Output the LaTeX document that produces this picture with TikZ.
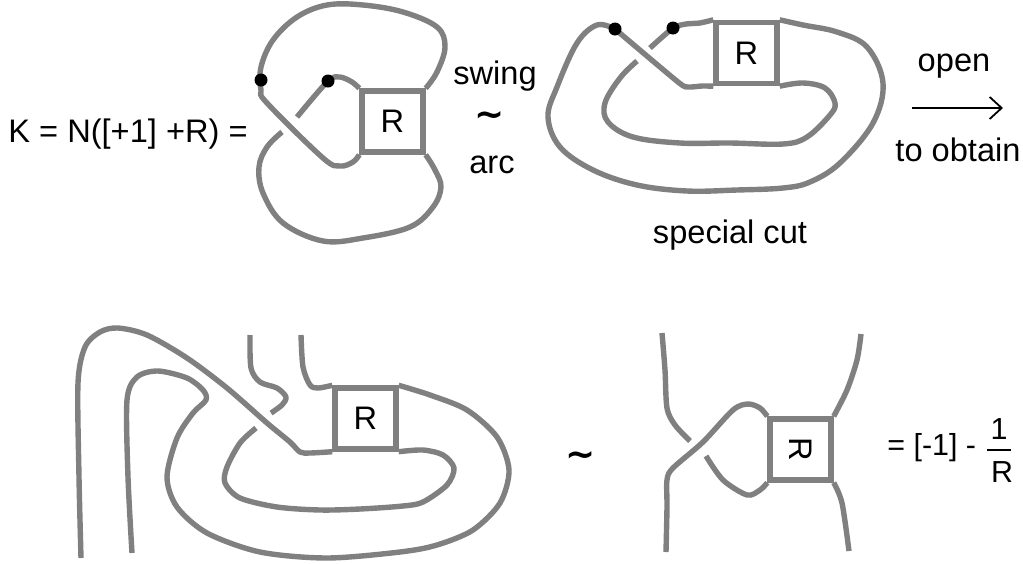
\documentclass[tikz,border=0pt]{standalone}
\usepackage{fontspec}
\setmainfont{Liberation Sans}
\newfontfamily\symbolfont{DejaVu Sans}
\usetikzlibrary{arrows.meta, positioning, calc}
\definecolor{strandColor}{RGB}{128, 128, 128}
\tikzstyle{strand} = [draw=strandColor, line width=2.7pt, line join=round]
\tikzstyle{tangle} = [rectangle, draw=strandColor, line width=2.7pt, minimum width=30.5pt, minimum height=30.5pt, inner sep=0pt, text centered, font=\fontsize{16.3}{18}\selectfont]
\tikzstyle{endpoint} = [circle, fill=black, minimum size=6.5pt, inner sep=0pt]
\tikzstyle{label} = [inner sep=0pt, font=\fontsize{16.3}{18}\selectfont]
\tikzstyle{smalllabel} = [inner sep=0pt, font=\fontsize{15.2}{17}\selectfont]
\tikzstyle{wave} = [inner sep=0pt, font=\fontsize{18}{18}\selectfont\symbolfont\bfseries]

\begin{document}
\begin{tikzpicture}[x=0.5pt,y=-0.5pt]
			\useasboundingbox (0,0) rectangle (1023,563);

			% top left
			\node (boxa) [tangle] at (392.5,121.5) {R};
			\coordinate (pointa) at (261,80);
			\coordinate (pointb) at (328,81);
			\draw[strand] plot[smooth, tension=0.6] coordinates {(boxa.north east) (437,72) (445,47) (437,27) (403,12) (363,5) (327,5) (297,17) (273,40) (261,67) (261,90) (267,103) (323,158) (340,166) (353,162) (boxa.south west)};
			\draw[strand] plot[smooth, tension=0.5] coordinates {(297,117) (pointb) (340,77) (352,82) (boxa.north west)};
			\draw[strand] plot[smooth, tension=0.6] coordinates {(282,132) (267,147) (259,167) (263,193) (283,223) (323,241) (363,238) (410,227) (433,207) (441,187) (435,170) (boxa.south east)};
			\node (dota) [endpoint] at (pointa) {};
			\node (dotb) [endpoint] at (pointb) {};

			% top right
			\node (boxb) [tangle] at (746.5,53) {R};
			\coordinate (pointc) at (615,29);
			\coordinate (pointd) at (673,28);
			\draw[strand] plot[smooth, tension=0.6] coordinates {(boxb.north east) (803,25) (837,32) (867,47) (883,83) (873,123) (840,163) (810,182) (783,188) (737,190) (687,191) (637,185) (593,170) (560,147) (548,117) (557,87) (577,43) (597,25) (pointc)};
			\draw[strand] plot[smooth, tension=0.4] coordinates {(pointc) (678,82) (688,87) (702,86) (boxb.south west)};
			\draw[strand] plot[smooth, tension=0.4] coordinates {(650,48) (pointd) (686,24) (700,23) (boxb.north west)};
			\draw[strand] plot[smooth, tension=0.6] coordinates {(637,61) (620,78) (605,103) (608,122) (633,137) (680,143) (730,143) (783,144) (807,137) (830,115) (835,103) (825,88) (803,83) (boxb.south east)};
			\node (dotc) [endpoint] at (pointc) {};
			\node (dotd) [endpoint] at (pointd) {};

			% bottom left
			\node (boxc) [tangle] at (365.5,418.5) {R};
			\draw[strand] plot[smooth, tension=0.5] coordinates {(81,558) (79,477) (78,383) (85,347) (100,332) (118,328) (147,335) (187,358) (227,388) (267,423) (290,442) (300,452) (310,453) (boxc.south west)};
			\draw[strand] plot[smooth, tension=0.5] coordinates {(132,553) (128,477) (127,400) (137,377) (158,371) (187,378) (203,390) (206,400) (193,413) (177,438) (167,477) (177,507) (207,533) (260,552) (327,558) (400,552) (437,545) (473,530) (500,503) (509,470) (497,437) (467,410) (430,395) (boxc.north east)};
			\draw[strand] plot[smooth, tension=0.5] coordinates {(boxc.south east) (423,450) (443,455) (454,468) (447,485) (423,502) (403,506) (360,509) (320,510) (277,507) (240,498) (225,483) (227,467) (240,443) (256,428)};
			\draw[strand] plot[smooth, tension=0.5] coordinates {(250,335) (251,368) (260,382) (277,388) (286,397) (282,405) (271,413)};
			\draw[strand] plot[smooth, tension=0.5] coordinates {(301,335) (303,367) (310,385) (318,388) (boxc.north west)};

			% bottom right
			\node (boxd) [tangle] at (800.5,449.5) {\rotatebox{-90}{R}};
			\draw[strand] plot[smooth, tension=0.5] coordinates {(662,333) (665,370) (667,408) (675,425) (690,441)};
			\draw[strand] plot[smooth, tension=0.5] coordinates {(666,552) (667,507) (667,480) (673,468) (703,442) (733,410) (748,404) (760,408) (boxd.north west)};
			\draw[strand] plot[smooth, tension=0.5] coordinates {(706,456) (723,480) (747,495) (760,490) (boxd.south west)};
			\draw[strand] plot[smooth, tension=0.5] coordinates {(boxd.north east) (847,390) (857,360) (861,334)};
			\draw[strand] plot[smooth, tension=0.5] coordinates {(boxd.south east) (842,503) (849,551)};

			% labels
			\node (knot) [label, anchor=west] at (8,134) {K = N([+1] +R) =};
			\node (swing) [label] at (495,76) {swing};
			\node (tilda) [wave] at (490,119) {∼};
			\node (arc) [label] at (492,165) {arc};
			\node (open) [label] at (954,66) {open};
			\node (obtain) [label] at (958,150) {to obtain};
			\node (cut) [label] at (730,235) {special cut};
			\node (tildb) [wave] at (581,459) {∼};
			\node (frac) [smalllabel, anchor=west] at (887,448) {= [-1] -};
			\node (one) [smalllabel] at (999,429) {1};
			\node (den) [smalllabel] at (1002,472) {R};
			\coordinate (bara) at (987,450);
			\coordinate (barb) at (1011,450);
			\draw[line width=0.8pt] (bara) -- (barb);
			\coordinate (arrowa) at (912,108);
			\coordinate (arrowb) at (1003,108);
			\draw[line width=0.9pt,-{Straight Barb[length=6pt,width=11pt]}] (arrowa) -- (arrowb);
\end{tikzpicture}
\end{document}
